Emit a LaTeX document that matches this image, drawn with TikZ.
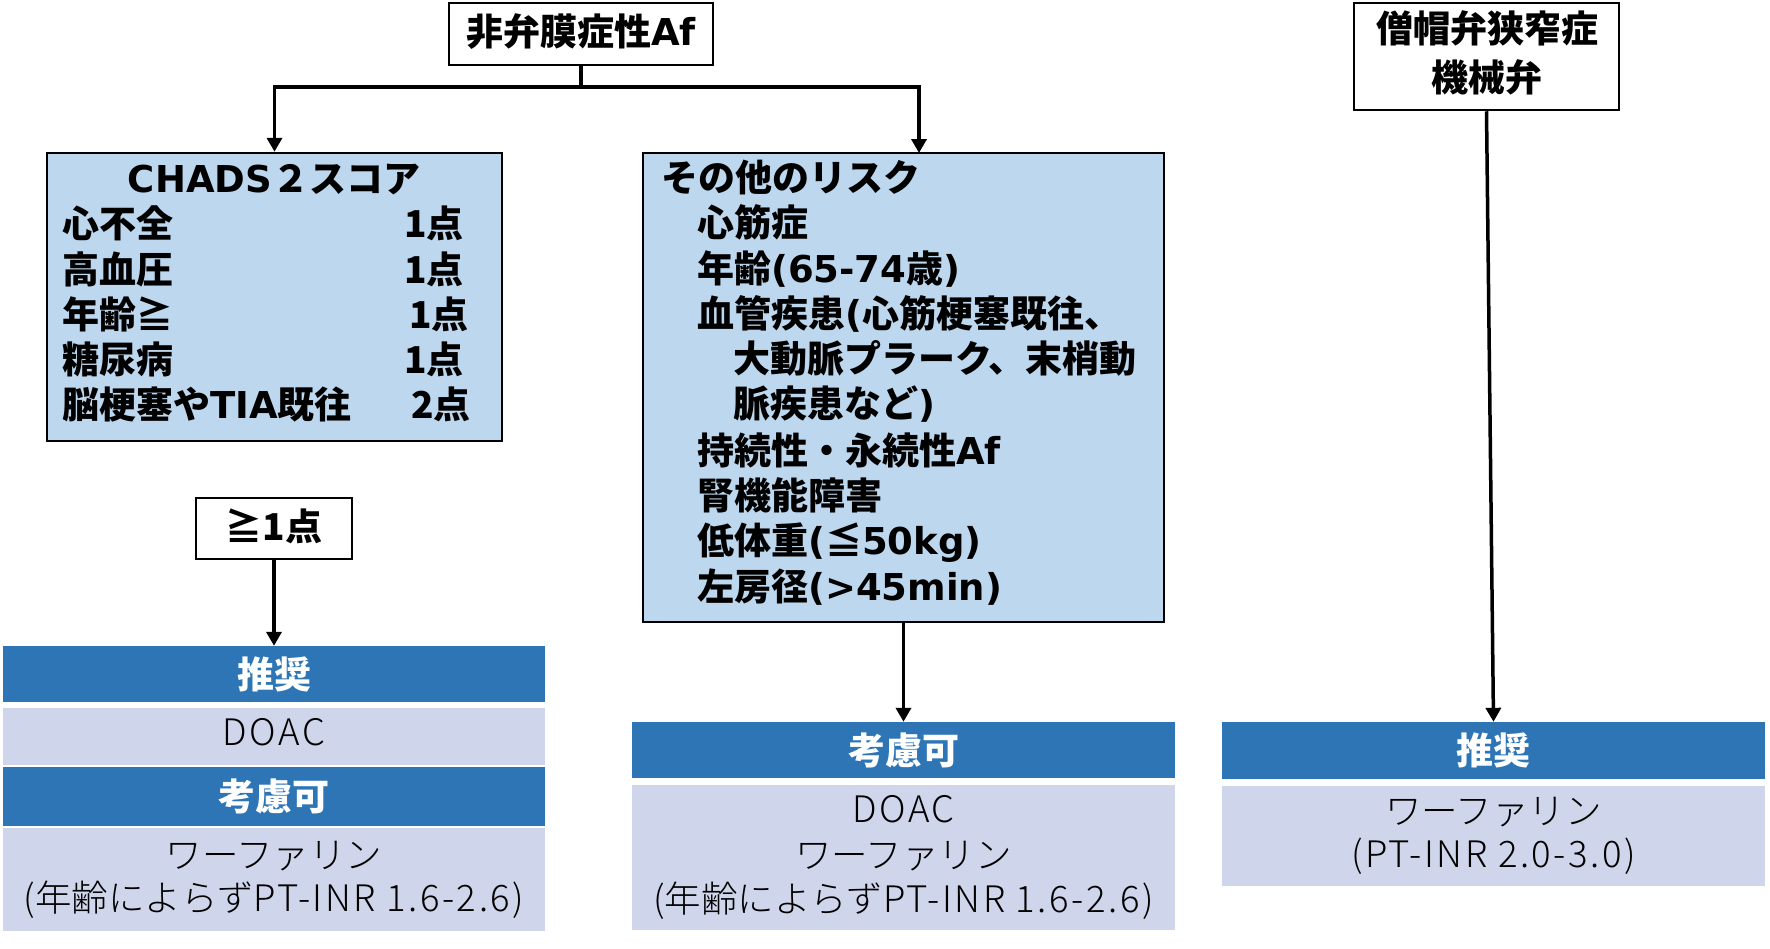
\documentclass[tikz,border=0pt]{standalone}
\usepackage{fontspec}
\setmainfont{Noto Sans CJK JP}
\newfontfamily\jplight{Noto Sans CJK JP Light}
\newfontfamily\latlight{Noto Sans CJK JP Light}[LetterSpace=7]
\newfontfamily\latbold{DejaVu Sans}
\newcommand\LB[1]{{\latbold #1}}
\newcommand\LL[1]{{\latlight #1}}
\usetikzlibrary{arrows.meta}
\definecolor{boxblue}{HTML}{BDD7EE}
\definecolor{barblue}{HTML}{2E75B6}
\definecolor{cellblue}{HTML}{CFD5EA}
\tikzset{
  framebox/.style={draw=black, line width=2.5pt, inner sep=0pt},
  bluebox/.style={framebox, fill=boxblue},
  btxt/.style={inner sep=0pt, text height=32.5pt, text depth=4.5pt,
    font=\bfseries\fontsize{37}{45}\selectfont},
  ltxt/.style={inner sep=0pt, text height=32pt, text depth=4.4pt,
    font=\jplight\fontsize{36.5}{45}\selectfont},
  bar/.style={fill=barblue, inner sep=0pt, text=white, text height=32.5pt,
    text depth=4.5pt, font=\bfseries\fontsize{37}{45}\selectfont},
  cell/.style={fill=cellblue, inner sep=0pt},
  conn/.style={line width=3.5pt},
  arr/.style={line width=3.5pt, -{Triangle[width=15pt,length=14pt]}},
}
\begin{document}
\begin{tikzpicture}[x=1pt,y=-1pt]
\useasboundingbox (0,0) rectangle (1770,948);
\fill[white] (0,0) rectangle (1770,948);

% top boxes
\node[framebox, minimum width=264pt, minimum height=62pt] (top) at (581,34) {};
\node[btxt] (toptxt) at (581,31) {非弁膜症性\LB{Af}};
\node[framebox, minimum width=265pt, minimum height=107pt] (rtop) at (1486.5,56.5) {};
\node[btxt] (rt1) at (1487,28) {僧帽弁狭窄症};
\node[btxt] (rt2) at (1487,77) {機械弁};

% CHADS box
\node[bluebox, minimum width=455pt, minimum height=288pt] (chads) at (274.5,297) {};
\node[btxt] (ct) at (274,178) {\LB{CHADS}２スコア};
\node[btxt, anchor=west] (c1) at (62,223) {心不全};
\node[btxt, anchor=west] (c2) at (62,269) {高血圧};
\node[btxt, anchor=west] (c3) at (62,314) {年齢≧};
\node[btxt, anchor=west] (c4) at (62,359) {糖尿病};
\node[btxt, anchor=west] (c5) at (62,404) {脳梗塞や\LB{TIA}既往};
\node[btxt, anchor=west] (p1) at (404,223) {1点};
\node[btxt, anchor=west] (p2) at (404,269) {1点};
\node[btxt, anchor=west] (p3) at (409,314) {1点};
\node[btxt, anchor=west] (p4) at (404,359) {1点};
\node[btxt, anchor=west] (p5) at (411,404) {2点};

% other risk box
\node[bluebox, minimum width=521pt, minimum height=469pt] (other) at (903.5,387.5) {};
\coordinate (otherin) at (919,153);
\node[btxt, anchor=west] (ot) at (661,177) {その他のリスク};
\node[btxt, anchor=west] (o1) at (697,222) {心筋症};
\node[btxt, anchor=west] (o2) at (697,268) {年齢\LB{(65-74}歳\LB{)}};
\node[btxt, anchor=west] (o3) at (697,313) {血管疾患\LB{(}心筋梗塞既往、};
\node[btxt, anchor=west] (o4) at (733,358) {大動脈プラーク、末梢動};
\node[btxt, anchor=west] (o5) at (733,403) {脈疾患など\LB{)}};
\node[btxt, anchor=west] (o6) at (697,450) {持続性・永続性\LB{Af}};
\node[btxt, anchor=west] (o7) at (697,495) {腎機能障害};
\node[btxt, anchor=west] (o8) at (697,540) {低体重\LB{(}≦\LB{50kg)}};
\node[btxt, anchor=west] (o9) at (697,586) {左房径\LB{(>45min)}};

% >=1 box
\node[framebox, minimum width=156pt, minimum height=61pt] (ge) at (274,528.5) {};
\node[btxt] (getxt) at (274,526) {≧1点};

% left column
\node[bar, minimum width=542pt, minimum height=56pt] (lrec) at (274,674) {推奨};
\node[cell, minimum width=542pt, minimum height=57pt] (ldoac) at (274,736.5) {};
\node[ltxt] (ldoact) at (274,732) {\LL{DOAC}};
\node[bar, minimum width=542pt, minimum height=59pt] (lcon) at (274,796.5) {考慮可};
\node[cell, minimum width=542pt, minimum height=103pt] (lwar) at (274,879.5) {};
\node[ltxt] (lw1) at (274,855) {ワーファリン};
\node[ltxt] (lw2) at (274,898) {\LL{(}年齢によらず\LL{PT-INR 1.6-2.6)}};

% middle column
\node[bar, minimum width=543pt, minimum height=56pt] (mcon) at (903.5,750) {考慮可};
\node[cell, minimum width=543pt, minimum height=145pt] (mcell) at (903.5,857.5) {};
\node[ltxt] (m1) at (903.5,809) {\LL{DOAC}};
\node[ltxt] (m2) at (903.5,855) {ワーファリン};
\node[ltxt] (m3) at (903.5,899) {\LL{(}年齢によらず\LL{PT-INR 1.6-2.6)}};

% right column
\node[bar, minimum width=543pt, minimum height=57pt] (rrec) at (1493.5,750.5) {推奨};
\node[cell, minimum width=543pt, minimum height=100pt] (rcell) at (1493.5,836) {};
\node[ltxt] (r1) at (1493.5,811) {ワーファリン};
\node[ltxt] (r2) at (1493.5,854) {\LL{(PT-INR 2.0-3.0)}};

% connectors
\coordinate (jn) at (581,87);
\draw[conn] (top.south) -- (jn);
\draw[arr] (jn) -| (chads.north);
\draw[arr] (jn) -| (otherin);
\draw[arr] (ge.south) -- (lrec.north);
\draw[arr] (other.south) -- (mcon.north);
\draw[arr] (rtop.south) -- (rrec.north);
\end{tikzpicture}
\end{document}
